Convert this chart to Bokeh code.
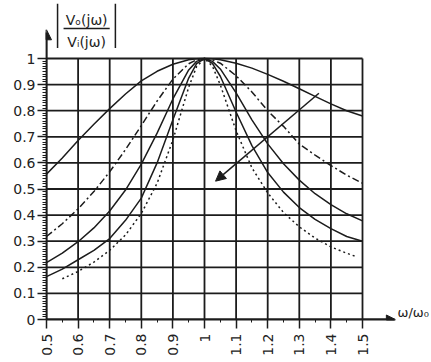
import math
import numpy as np
from bokeh.plotting import figure
from bokeh.models import Range1d, FixedTicker, CustomJSTickFormatter, Label, Arrow, NormalHead
from bokeh.embed import file_html
from bokeh.resources import INLINE

# ---- data ----
OMEGA = [0.5, 0.55, 0.6, 0.65, 0.7, 0.75, 0.8, 0.85, 0.9, 0.95, 0.975, 1.0,
         1.025, 1.05, 1.1, 1.15, 1.2, 1.25, 1.3, 1.35, 1.4, 1.45, 1.5]
Q1 = [0.557, 0.619, 0.686, 0.748, 0.808, 0.864, 0.914, 0.951, 0.978, 0.995, 0.999, 1.0,
      0.999, 0.995, 0.982, 0.963, 0.939, 0.913, 0.884, 0.855, 0.826, 0.800, 0.780]
Q2 = [0.318, 0.367, 0.424, 0.490, 0.566, 0.651, 0.743, 0.837, 0.921, 0.980, 0.995, 1.0,
      0.995, 0.982, 0.934, 0.872, 0.800, 0.740, 0.672, 0.630, 0.590, 0.553, 0.522]
Q3 = [0.218, 0.254, 0.298, 0.351, 0.416, 0.496, 0.595, 0.714, 0.845, 0.956, 0.989, 1.0,
      0.989, 0.960, 0.868, 0.765, 0.673, 0.597, 0.534, 0.482, 0.440, 0.405, 0.378]
Q4 = [0.164, 0.193, 0.229, 0.265, 0.310, 0.380, 0.465, 0.600, 0.765, 0.925, 0.980, 1.0,
      0.981, 0.932, 0.795, 0.666, 0.563, 0.488, 0.429, 0.384, 0.348, 0.318, 0.300]
OMEGA5 = [0.55, 0.6, 0.65, 0.7, 0.75, 0.8, 0.85, 0.9, 0.95, 0.975, 1.0, 1.025,
          1.05, 1.1, 1.15, 1.2, 1.25, 1.3, 1.35, 1.4, 1.45, 1.48]
Q5 = [0.156, 0.184, 0.220, 0.265, 0.324, 0.406, 0.522, 0.688, 0.890, 0.969, 1.0, 0.971,
      0.899, 0.723, 0.581, 0.485, 0.410, 0.355, 0.312, 0.278, 0.254, 0.241]

X_TICKS = [0.5, 0.6, 0.7, 0.8, 0.9, 1.0, 1.1, 1.2, 1.3, 1.4, 1.5]
Y_TICKS = [0.0, 0.1, 0.2, 0.3, 0.4, 0.5, 0.6, 0.7, 0.8, 0.9, 1.0]
X_MINOR = np.round(np.arange(0.5, 1.5001, 0.05), 2).tolist()
Y_MINOR = np.round(np.arange(0.0, 1.0001, 0.01), 2).tolist()

INK = "#1c1c1c"
TXT = "#222222"
FONT = "DejaVu Sans"

# frame spans the whole canvas except the left/bottom axis margins;
# data area (0.5..1.5, 0..1) lies in its lower-left part
W, H = 431, 362
LEFT, BOTTOM = 46, 43
PX_X, PX_Y = 316.0, 261.0          # pixels per unit along x and y
x_end = 0.5 + (W - LEFT) / PX_X
y_end = (H - BOTTOM) / PX_Y

p = figure(width=W, height=H, x_range=Range1d(0.5, x_end), y_range=Range1d(0, y_end),
           toolbar_location=None, output_backend="svg",
           min_border_left=LEFT, min_border_right=0, min_border_top=0, min_border_bottom=BOTTOM,
           background_fill_color="white", border_fill_color="white")
p.outline_line_color = None
p.xgrid.visible = False
p.ygrid.visible = False

xt = FixedTicker(ticks=X_TICKS, minor_ticks=X_MINOR)
yt = FixedTicker(ticks=Y_TICKS, minor_ticks=Y_MINOR)
p.xaxis.ticker = xt
p.yaxis.ticker = yt
p.xaxis.bounds = (X_TICKS[0], 1.6)
p.yaxis.bounds = (Y_TICKS[0], 1.1)

fmt = CustomJSTickFormatter(code="var s = tick.toFixed(1); return s.endsWith('.0') ? s.slice(0, -2) : s;")
for ax in (p.xaxis[0], p.yaxis[0]):
    ax.formatter = fmt
    ax.axis_line_color = INK
    ax.axis_line_width = 1.8
    ax.major_tick_line_color = INK
    ax.major_tick_line_width = 1.5
    ax.major_tick_in = 0
    ax.major_tick_out = 9
    ax.minor_tick_line_color = INK
    ax.minor_tick_line_width = 1
    ax.minor_tick_in = 0
    ax.major_label_text_font = FONT
    ax.major_label_text_font_size = "14px"
    ax.major_label_text_color = TXT
p.yaxis.minor_tick_out = 4
p.yaxis.major_label_standoff = 2
p.xaxis.minor_tick_out = 3
p.xaxis.major_label_standoff = 5
p.xaxis.major_label_orientation = math.pi / 2

# grid (only over the data area)
nx, ny = len(X_TICKS), len(Y_TICKS)
p.segment(x0=X_TICKS, y0=[Y_TICKS[0]] * nx, x1=X_TICKS, y1=[Y_TICKS[-1]] * nx,
          line_color=INK, line_width=1.8)
p.segment(x0=[X_TICKS[0]] * ny, y0=Y_TICKS, x1=[X_TICKS[-1]] * ny, y1=Y_TICKS,
          line_color=INK, line_width=1.8)

# curves
p.line(OMEGA, Q1, line_color=INK, line_width=1.5)
p.line(OMEGA, Q2, line_color=INK, line_width=1.5, line_dash="7 3 2 3")
p.line(OMEGA, Q3, line_color=INK, line_width=1.5)
p.line(OMEGA, Q4, line_color=INK, line_width=1.5)
p.line(OMEGA5, Q5, line_color=INK, line_width=1.5, line_dash="2 3")

# arrow showing direction of change
p.add_layout(Arrow(end=NormalHead(size=10, fill_color=INK, line_color=INK),
                   x_start=1.362, y_start=0.867, x_end=1.035, y_end=0.53,
                   line_color=INK, line_width=1.5))

# axis arrow heads
p.add_layout(Arrow(end=NormalHead(size=10, fill_color=INK, line_color=INK),
                   x_start=0.5, y_start=1.0, x_end=0.5, y_end=1.11,
                   line_color=INK, line_width=1.8))
p.add_layout(Arrow(end=NormalHead(size=9, fill_color=INK, line_color=INK),
                   x_start=1.5, y_start=0.0, x_end=1.604, y_end=0.0,
                   line_color=INK, line_width=1.8))
p.add_layout(Label(x=1.611, y=0.0, text="ω/ω₀", text_baseline="bottom",
                   text_font=FONT, text_font_size="13px", text_color=TXT))

# y label |Vo(jω)/Vi(jω)|
p.add_layout(Label(x=0.627, y=1.149, text="Vₒ(jω)", text_align="center", text_baseline="middle",
                   text_font=FONT, text_font_size="14px", text_color=TXT))
p.add_layout(Label(x=0.627, y=1.065, text="Vᵢ(jω)", text_align="center", text_baseline="middle",
                   text_font=FONT, text_font_size="14px", text_color=TXT))
p.add_layout(Arrow(end=None, x_start=0.554, y_start=1.115, x_end=0.700, y_end=1.115,
                   line_color=INK, line_width=1.5))
for bx in (0.535, 0.718):
    p.add_layout(Arrow(end=None, x_start=bx, y_start=1.04, x_end=bx, y_end=1.21,
                       line_color=INK, line_width=1.5))

open("out.html", "w").write(file_html(p, INLINE))
